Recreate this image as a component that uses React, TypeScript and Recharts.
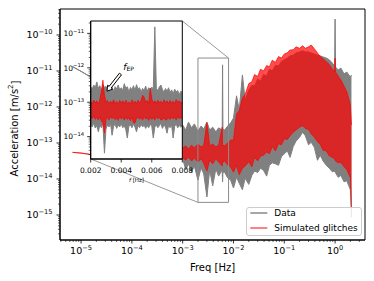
import React from 'react';
import {
  ComposedChart,
  Area,
  XAxis,
  YAxis,
  ReferenceArea,
  ReferenceLine,
  Legend,
  CartesianGrid,
  Label,
} from 'recharts';

const FONT = '"DejaVu Sans", "Liberation Sans", sans-serif';
const GRAY = '#808080';
const RED = '#ff0000';
const RED_ALPHA = 0.7;
const BOX = '#8c8c8c';

// ---- main spectrum (Hz) ----
const mainFreq = [
  6.8e-6, 1e-5, 1.55e-5, 3e-5, 1e-4, 3e-4,
  1.0e-3, 1.15e-3, 1.3e-3, 1.5e-3, 1.7e-3, 2.0e-3, 2.3e-3, 2.6e-3, 3.0e-3, 3.4e-3,
  3.9e-3, 4.5e-3, 5.1e-3, 6.0e-3, 6.1e-3, 6.2e-3, 6.7e-3, 7.7e-3, 8.8e-3,
  0.01, 0.0115, 0.013, 0.015, 0.017, 0.02, 0.023, 0.026, 0.03, 0.034, 0.039,
  0.045, 0.051, 0.058, 0.067, 0.077, 0.088,
  0.1, 0.115, 0.13, 0.15, 0.17, 0.2, 0.23, 0.26, 0.3, 0.34, 0.39,
  0.45, 0.51, 0.58, 0.67, 0.77, 0.88,
  0.98, 1.0, 1.02, 1.15, 1.3, 1.5, 1.7, 2.0, 2.1,
];

// envelopes, log10(m/s^2)
const dataHi = [
  -10.88, -11.01, -11.17, -11.45, -11.9, -12.3,
  -12.5, -12.64, -12.42, -12.58, -12.47, -12.67, -12.53, -12.61, -12.42, -12.64,
  -12.56, -12.69, -12.58, -12.64, -10.83, -12.61, -12.64, -12.53, -12.44,
  -12.31, -11.69, -12.08, -11.11, -11.81, -11.53, -11.4, -11.42, -11.22, -11.28, -11.1,
  -11.14, -10.95, -11.0, -10.84, -10.86, -10.74,
  -10.69, -10.64, -10.58, -10.56, -10.5, -10.47, -10.44, -10.47, -10.47, -10.5, -10.53,
  -10.56, -10.58, -10.61, -10.64, -10.69, -10.78,
  -10.86, -9.56, -10.89, -10.97, -10.92, -11.08, -11.03, -11.17, -11.11,
];
const dataLo = [
  -10.88, -11.01, -11.17, -11.45, -11.9, -12.3,
  -13.44, -13.75, -13.58, -13.81, -13.64, -14.03, -13.69, -13.86, -14.5, -13.75,
  -14.19, -13.72, -13.92, -13.75, -14.08, -13.81, -13.81, -13.97, -14.03,
  -14.25, -13.95, -14.12, -14.3, -13.98, -14.15, -13.9, -13.78, -13.82, -13.7, -13.76,
  -13.92, -13.62, -13.55, -13.58, -13.62, -13.38,
  -13.3, -13.22, -13.4, -13.1, -12.95, -12.84, -12.7, -12.8, -13.05, -12.98, -13.12,
  -13.48, -13.34, -13.5, -13.62, -13.7, -13.8,
  -13.78, -13.81, -13.83, -13.95, -13.9, -14.08, -14.05, -14.3, -15.06,
];
const simHi = [
  -13.26, -13.28, -13.32, -13.33, -13.35, -13.3,
  -13.14, -13.08, -13.17, -13.06, -13.14, -13.03, -13.11, -13.06, -12.44, -13.08,
  -13.03, -13.11, -13.06, -12.56, -13.08, -13.06, -13.08, -13.0, -12.92,
  -12.92, -12.2, -12.1, -11.75, -11.65, -11.35, -11.3, -11.1, -11.15, -10.95, -11.0,
  -10.85, -10.88, -10.7, -10.76, -10.6, -10.64,
  -10.53, -10.49, -10.42, -10.41, -10.33, -10.37, -10.3, -10.37, -10.33, -10.28, -10.38,
  -10.5, -10.6, -10.66, -10.74, -10.82, -10.95,
  -11.0, -10.64, -11.03, -11.14, -11.25, -11.42, -11.58, -11.94, -12.5,
];
const simLo = [
  -13.26, -13.28, -13.32, -13.33, -13.35, -13.3,
  -13.42, -13.47, -13.39, -13.5, -13.42, -13.53, -13.44, -13.56, -13.78, -13.47,
  -13.58, -13.44, -13.53, -13.64, -13.5, -13.53, -13.5, -13.61, -13.67,
  -13.81, -13.62, -13.88, -13.7, -13.64, -13.52, -13.66, -13.4, -13.5, -13.36, -13.34,
  -13.25, -13.3, -13.1, -13.22, -13.02, -13.05,
  -12.88, -12.9, -12.8, -12.7, -12.64, -12.56, -12.52, -12.6, -12.62, -12.75, -12.84,
  -12.96, -13.04, -13.2, -13.22, -13.36, -13.4,
  -13.44, -13.47, -13.5, -13.55, -13.54, -13.66, -13.74, -13.97, -14.78,
];

// ---- inset (linear frequency) ----
const insetFreq = [
  0.002, 0.0021, 0.0022, 0.0023, 0.0024, 0.0025, 0.0026, 0.0027, 0.0028, 0.0029,
  0.003, 0.0031, 0.0032, 0.0033, 0.0034, 0.0035, 0.0036, 0.0037, 0.0038, 0.0039,
  0.004, 0.0041, 0.0042, 0.0043, 0.0044, 0.0045, 0.0046, 0.0047, 0.0048, 0.0049,
  0.005, 0.0051, 0.0052, 0.0053, 0.0054, 0.0055, 0.0056, 0.0057, 0.0058, 0.0059,
  0.006, 0.0061, 0.0062, 0.0063, 0.0064, 0.0065, 0.0066, 0.0067, 0.0068, 0.0069,
  0.007, 0.0071, 0.0072, 0.0073, 0.0074, 0.0075, 0.0076, 0.0077, 0.0078, 0.0079,
  0.008,
];
const insetDataHi = [
  -12.55, -12.62, -12.5, -12.58, -12.41, -12.6, -12.52, -12.66, -12.49, -12.57,
  -12.54, -12.63, -12.51, -12.6, -12.56, -12.68, -12.55, -12.62, -12.5, -12.64,
  -12.58, -12.66, -12.46, -12.6, -12.55, -12.7, -12.57, -12.64, -12.52, -12.66,
  -12.49, -12.62, -12.58, -12.7, -12.6, -12.66, -12.53, -12.68, -12.58, -12.64,
  -12.56, -12.62, -10.81, -12.6, -12.66, -12.55, -12.5, -12.63, -12.7, -12.6,
  -12.68, -12.58, -12.72, -12.64, -12.76, -12.62, -12.7, -12.66, -12.78, -12.68,
  -12.72,
];
const insetDataLo = [
  -13.65, -13.72, -13.6, -13.75, -13.68, -13.86, -13.66, -13.74, -13.62, -14.48,
  -13.78, -13.66, -13.72, -13.62, -13.96, -13.7, -13.64, -13.76, -13.66, -13.72,
  -13.62, -13.74, -13.68, -13.8, -14.04, -13.7, -13.66, -13.74, -13.64, -13.72,
  -13.86, -13.68, -13.74, -13.64, -13.72, -13.66, -13.76, -13.68, -13.74, -13.64,
  -13.7, -14.04, -13.72, -13.66, -13.74, -13.68, -13.62, -13.76, -13.66, -13.72,
  -13.9, -13.68, -13.74, -13.66, -14.04, -13.7, -13.64, -13.74, -13.68, -13.72,
  -13.7,
];
const insetSimHi = [
  -12.98, -13.04, -12.94, -13.02, -12.96, -13.06, -12.92, -12.7, -12.36, -12.8,
  -13.0, -12.95, -13.05, -12.97, -13.03, -12.93, -13.04, -12.98, -13.06, -12.95,
  -13.02, -12.96, -13.05, -12.94, -13.03, -12.99, -13.06, -12.93, -13.02, -12.97,
  -13.05, -12.94, -13.01, -12.96, -12.8, -12.85, -13.0, -12.95, -13.04, -12.59,
  -12.9, -13.02, -12.96, -13.04, -12.94, -13.01, -12.97, -13.05, -12.93, -13.02,
  -12.96, -13.04, -12.95, -13.03, -12.97, -13.05, -12.92, -13.0, -12.96, -13.03,
  -12.98,
];
const insetSimLo = [
  -13.42, -13.48, -13.4, -13.5, -13.44, -13.52, -13.42, -13.55, -13.6, -13.9,
  -13.5, -13.44, -13.52, -13.4, -13.48, -13.43, -13.51, -13.45, -13.53, -13.41,
  -13.49, -13.44, -13.52, -13.42, -13.5, -13.45, -13.54, -13.43, -13.6, -13.6,
  -13.47, -13.42, -13.5, -13.44, -13.52, -13.41, -13.49, -13.45, -13.53, -13.43,
  -13.5, -13.44, -13.52, -13.42, -13.48, -13.44, -13.52, -13.5, -13.45, -13.52,
  -13.5, -13.45, -13.5, -13.42, -13.49, -13.44, -13.52, -13.41, -13.48, -13.44,
  -13.5,
];

const insetXTicks = [0.002, 0.004, 0.006, 0.008];
const insetXLabels = ['0.002', '0.004', '0.006', '0.008'];

const seriesNames = ['Data', 'Simulated glitches'];

// axis ranges
const MAIN_X: [number, number] = [3.85e-6, 3.88];
const MAIN_Y: [number, number] = [2.02e-16, 5.27e-10];
const INSET_X: [number, number] = [0.002, 0.008];
const INSET_Y: [number, number] = [2.24e-15, 2.29e-11];
// inset corners expressed in main-axes coordinates (for the connector lines)
const INSET_TR = { x: 9.82e-4, y: 2.45e-10 };
const INSET_BL = { x: 1.55e-5, y: 3.6e-14 };
// f_EP arrow (inset coordinates)
const EP_TAIL = { x: 0.00395, y: 6.6e-13 };
const EP_HEAD = { x: 0.00307, y: 2.1e-13 };

const pw = (e: number) => Math.pow(10, e);

const mainData = mainFreq.map((f, i) => ({
  f,
  data: [pw(dataLo[i]), pw(dataHi[i])],
  sim: [pw(simLo[i]), pw(simHi[i])],
}));

const insetData = insetFreq.map((f, i) => ({
  f,
  data: [pw(insetDataLo[i]), pw(insetDataHi[i])],
  sim: [pw(insetSimLo[i]), pw(insetSimHi[i])],
}));

function logTicks(lo: number, hi: number) {
  const out: number[] = [];
  for (let k = Math.floor(Math.log10(lo)); k <= Math.ceil(Math.log10(hi)); k++) {
    for (let m = 1; m <= 9; m++) {
      const v = m * Math.pow(10, k);
      if (v >= lo && v <= hi) out.push(v);
    }
  }
  return out;
}

const isDecade = (v: number) => Math.abs(Math.log10(v) - Math.round(Math.log10(v))) < 1e-6;

const mainXTicks = logTicks(MAIN_X[0], MAIN_X[1]);
const mainYTicks = logTicks(MAIN_Y[0], MAIN_Y[1]);
const insetYTicks = logTicks(INSET_Y[0], INSET_Y[1]);

function Pow10({ x, y, v, size, anchor }: any) {
  const k = Math.round(Math.log10(v));
  return (
    <text x={x} y={y} textAnchor={anchor} fontFamily={FONT} fontSize={size} fill="#000">
      10
      <tspan dy={-size * 0.45} fontSize={size * 0.7}>
        {k < 0 ? '\u2212' + -k : String(k)}
      </tspan>
    </text>
  );
}

const mainXTick = (p: any) => {
  const v = p.payload.value;
  const major = isDecade(v);
  return (
    <g>
      <line x1={p.x} x2={p.x} y1={p.y} y2={p.y + (major ? 3.5 : 2)} stroke="#000" strokeWidth={major ? 0.8 : 0.6} />
      {major && <Pow10 x={p.x} y={p.y + 14} v={v} size={9.5} anchor="middle" />}
    </g>
  );
};

const mainYTick = (p: any) => {
  const v = p.payload.value;
  const major = isDecade(v);
  return (
    <g>
      <line x1={p.x} x2={p.x - (major ? 3.5 : 2)} y1={p.y} y2={p.y} stroke="#000" strokeWidth={major ? 0.8 : 0.6} />
      {major && <Pow10 x={p.x - 7.5} y={p.y + 3.4} v={v} size={9.5} anchor="end" />}
    </g>
  );
};

const insetYTick = (p: any) => {
  const v = p.payload.value;
  const major = isDecade(v);
  return (
    <g>
      <line x1={p.x} x2={p.x - (major ? 3.5 : 2)} y1={p.y} y2={p.y} stroke="#000" strokeWidth={major ? 0.8 : 0.6} />
      {major && <Pow10 x={p.x - 6.5} y={p.y + 2.8} v={v} size={7.5} anchor="end" />}
    </g>
  );
};

const insetXTick = (p: any) => {
  const i = insetXTicks.indexOf(p.payload.value);
  return (
    <g>
      <line x1={p.x} x2={p.x} y1={p.y} y2={p.y + 3.5} stroke="#000" strokeWidth={0.8} />
      <text x={p.x} y={p.y + 13.5} textAnchor="middle" fontFamily={FONT} fontSize={7.5} fill="#000">
        {insetXLabels[i] ?? ''}
      </text>
    </g>
  );
};

const EpArrow = (p: any) => {
  const { x1, y1, x2, y2 } = p;
  if (x1 == null || y1 == null) return <g />;
  const dx = x2 - x1;
  const dy = y2 - y1;
  const L = Math.hypot(dx, dy) || 1;
  const ux = dx / L;
  const uy = dy / L;
  const nx = -uy;
  const ny = ux;
  const w = 1.3;
  const hw = 3.2;
  const hl = 5;
  const bx = x2 - ux * hl;
  const by = y2 - uy * hl;
  const pts = [
    [x1 + nx * w, y1 + ny * w],
    [bx + nx * w, by + ny * w],
    [bx + nx * hw, by + ny * hw],
    [x2, y2],
    [bx - nx * hw, by - ny * hw],
    [bx - nx * w, by - ny * w],
    [x1 - nx * w, y1 - ny * w],
  ]
    .map((q) => q.join(','))
    .join(' ');
  return (
    <g>
      <polygon points={pts} fill="#fff" stroke="#000" strokeWidth={1} />
      <text x={x1 + 2.8} y={y1 - 4} fontFamily={FONT} fill="#000">
        <tspan fontSize={9} fontStyle="italic">f</tspan>
        <tspan fontSize={6} dy={1}>EP</tspan>
      </text>
    </g>
  );
};

const LegendBox = () => (
  <svg width={116} height={29} style={{ display: 'block' }}>
    <rect x={0.5} y={0.5} width={115} height={28} rx={2.5} fill="#fff" fillOpacity={0.8} stroke="#cccccc" />
    <line x1={4.3} x2={21.3} y1={6} y2={6} stroke={GRAY} strokeWidth={1.4} />
    <text x={28.3} y={9.2} fontFamily={FONT} fontSize={9} fill="#000">{seriesNames[0]}</text>
    <line x1={4.3} x2={21.3} y1={21} y2={21} stroke={RED} strokeOpacity={RED_ALPHA} strokeWidth={1.4} />
    <text x={28.3} y={24.2} fontFamily={FONT} fontSize={9} fill="#000">{seriesNames[1]}</text>
  </svg>
);

export default function App() {
  return (
    <div style={{ position: 'absolute', left: 0, top: 0, width: 374, height: 281, background: '#fff' }}>
      <div style={{ position: 'absolute', left: 0, top: 0 }}>
        <ComposedChart width={374} height={281} data={mainData} margin={{ top: 9, right: 9, bottom: 0, left: 0 }}>
          <XAxis
            dataKey="f"
            type="number"
            scale="log"
            domain={MAIN_X}
            allowDataOverflow
            ticks={mainXTicks}
            interval={0}
            tickSize={0}
            tickMargin={0}
            tickLine={false}
            axisLine={{ stroke: '#000', strokeWidth: 1 }}
            tick={mainXTick}
            height={41}
          >
            <Label
              content={(lp: any) => {
                const vb = lp.viewBox ?? { x: 60, y: 240, width: 305 };
                return (
                  <text x={vb.x + vb.width / 2} y={vb.y + 30.5} textAnchor="middle" fontFamily={FONT} fontSize={10} fill="#000">
                    Freq [Hz]
                  </text>
                );
              }}
            />
          </XAxis>
          <YAxis
            type="number"
            scale="log"
            domain={MAIN_Y}
            allowDataOverflow
            ticks={mainYTicks}
            interval={0}
            tickSize={0}
            tickMargin={0}
            tickLine={false}
            axisLine={{ stroke: '#000', strokeWidth: 1 }}
            tick={mainYTick}
            width={60}
          >
            <Label
              content={(lp: any) => {
                const vb = lp.viewBox ?? { x: 0, y: 9, height: 231 };
                const cx = vb.x + 14.5;
                const cy = vb.y + vb.height / 2 + 4;
                return (
                  <text
                    x={cx}
                    y={cy}
                    transform={`rotate(-90 ${cx} ${cy})`}
                    textAnchor="middle"
                    dominantBaseline="central"
                    fontFamily={FONT}
                    fontSize={10}
                    fill="#000"
                  >
                    Acceleration [m/s
                    <tspan dy={-4} fontSize={7}>2</tspan>
                    <tspan dy={4}>]</tspan>
                  </text>
                );
              }}
            />
          </YAxis>
          <Area
            type="linear"
            dataKey="data"
            name={seriesNames[0]}
            stroke={GRAY}
            strokeWidth={1}
            fill={GRAY}
            fillOpacity={1}
            dot={false}
            activeDot={false}
            isAnimationActive={false}
          />
          <Area
            type="linear"
            dataKey="sim"
            name={seriesNames[1]}
            stroke={RED}
            strokeOpacity={RED_ALPHA}
            strokeWidth={1}
            fill={RED}
            fillOpacity={RED_ALPHA}
            dot={false}
            activeDot={false}
            isAnimationActive={false}
          />
          <ReferenceArea
            x1={INSET_X[0]}
            x2={INSET_X[1]}
            y1={INSET_Y[0]}
            y2={INSET_Y[1]}
            fill="none"
            fillOpacity={0}
            stroke={BOX}
            strokeWidth={1}
            ifOverflow="visible"
          />
          <ReferenceLine
            segment={[{ x: INSET_X[1], y: INSET_Y[1] }, INSET_TR]}
            stroke={BOX}
            strokeWidth={0.9}
            ifOverflow="visible"
          />
          <ReferenceLine
            segment={[{ x: INSET_X[0], y: INSET_Y[0] }, INSET_BL]}
            stroke={BOX}
            strokeWidth={0.9}
            ifOverflow="visible"
          />
          <ReferenceArea
            x1={MAIN_X[0]}
            x2={MAIN_X[1]}
            y1={MAIN_Y[0]}
            y2={MAIN_Y[1]}
            fill="none"
            fillOpacity={0}
            stroke="#000"
            strokeWidth={1}
            ifOverflow="visible"
          />
          <Legend
            verticalAlign="middle"
            align="center"
            layout="horizontal"
            wrapperStyle={{ left: 245.5, top: 207, width: 116, height: 29 }}
            content={() => <LegendBox />}
          />
        </ComposedChart>
      </div>

      <div style={{ position: 'absolute', left: 0, top: 0 }}>
        <ComposedChart width={374} height={281} data={insetData} margin={{ top: 21, right: 191.7, bottom: 92, left: 0 }}>
          <CartesianGrid fill="#fff" fillOpacity={1} stroke="none" horizontal={false} vertical={false} />
          <XAxis
            dataKey="f"
            type="number"
            domain={INSET_X}
            allowDataOverflow
            ticks={insetXTicks}
            interval={0}
            tickSize={0}
            tickMargin={0}
            tickLine={false}
            axisLine={{ stroke: '#000', strokeWidth: 1 }}
            tick={insetXTick}
            height={30}
          >
            <Label
              content={(lp: any) => {
                const vb = lp.viewBox ?? { x: 90.7, y: 159, width: 91.6 };
                return (
                  <text x={vb.x + vb.width / 2} y={vb.y + 23} textAnchor="middle" fontFamily={FONT} fontSize={5.5} fill="#000">
                    <tspan fontStyle="italic">f</tspan> [Hz]
                  </text>
                );
              }}
            />
          </XAxis>
          <YAxis
            type="number"
            scale="log"
            domain={INSET_Y}
            allowDataOverflow
            ticks={insetYTicks}
            interval={0}
            tickSize={0}
            tickMargin={0}
            tickLine={false}
            axisLine={{ stroke: '#000', strokeWidth: 1 }}
            tick={insetYTick}
            width={90.7}
          />
          <Area
            type="linear"
            dataKey="data"
            stroke={GRAY}
            strokeWidth={1}
            fill={GRAY}
            fillOpacity={1}
            dot={false}
            activeDot={false}
            legendType="none"
            isAnimationActive={false}
          />
          <Area
            type="linear"
            dataKey="sim"
            stroke={RED}
            strokeOpacity={RED_ALPHA}
            strokeWidth={1}
            fill={RED}
            fillOpacity={RED_ALPHA}
            dot={false}
            activeDot={false}
            legendType="none"
            isAnimationActive={false}
          />
          <ReferenceLine segment={[EP_TAIL, EP_HEAD]} shape={(p: any) => <EpArrow {...p} />} ifOverflow="visible" />
          <ReferenceArea
            x1={INSET_X[0]}
            x2={INSET_X[1]}
            y1={INSET_Y[0]}
            y2={INSET_Y[1]}
            fill="none"
            fillOpacity={0}
            stroke="#000"
            strokeWidth={1}
            ifOverflow="visible"
          />
        </ComposedChart>
      </div>
    </div>
  );
}
